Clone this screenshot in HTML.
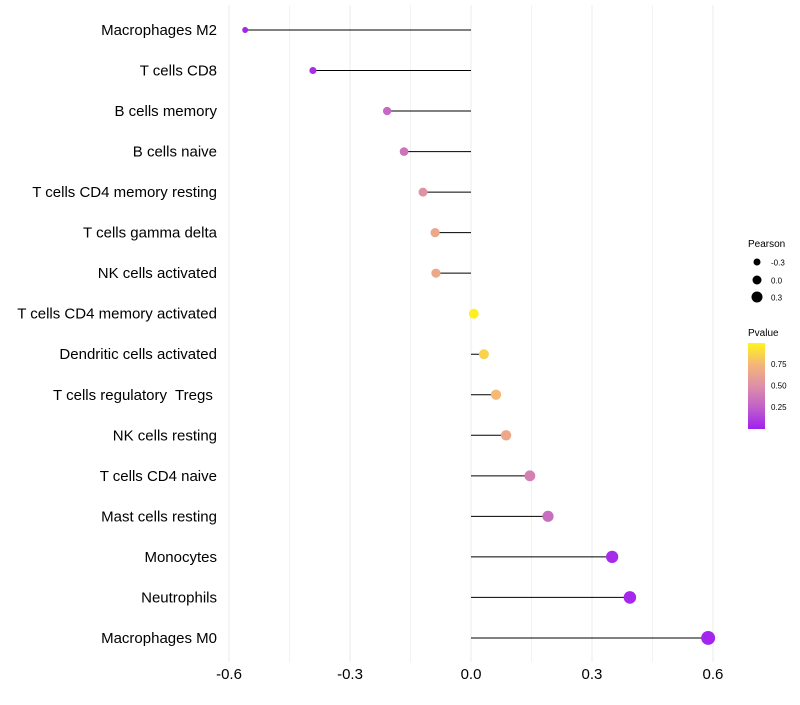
<!DOCTYPE html>
<html><head><meta charset="utf-8"><style>
body{margin:0;background:#fff;font-family:"Liberation Sans",sans-serif}
svg text{font-family:"Liberation Sans",sans-serif;white-space:pre}
</style></head><body>
<svg id="chart" width="800" height="700">
<defs><linearGradient id="pg" x1="0" y1="1" x2="0" y2="0">
<stop offset="0" stop-color="#A020F0"/><stop offset="0.25" stop-color="#C060C8"/><stop offset="0.5" stop-color="#DE8FA8"/><stop offset="0.75" stop-color="#F4B678"/><stop offset="1" stop-color="#FFF51A"/></linearGradient></defs>
<g id="grid"></g><g id="marks"></g><g id="labels"></g>
<g>
<text x="748" y="247" font-size="10">Pearson</text>
<circle cx="757" cy="262" r="3.5" fill="#000"/><text x="771" y="265.5" font-size="8">-0.3</text>
<circle cx="757" cy="280" r="4.5" fill="#000"/><text x="771" y="283.5" font-size="8">0.0</text>
<circle cx="757" cy="297" r="5.5" fill="#000"/><text x="771" y="300.5" font-size="8">0.3</text>
</g>
<g>
<text x="748" y="336" font-size="10">Pvalue</text>
<rect x="748" y="343" width="17" height="86" fill="url(#pg)"/>
<text x="771" y="367" font-size="8">0.75</text>
<text x="771" y="388.5" font-size="8">0.50</text>
<text x="771" y="410" font-size="8">0.25</text>
</g>
</svg>
<script>
const categories=["Macrophages M2","T cells CD8","B cells memory","B cells naive","T cells CD4 memory resting","T cells gamma delta","NK cells activated","T cells CD4 memory activated","Dendritic cells activated","T cells regulatory  Tregs ","NK cells resting","T cells CD4 naive","Mast cells resting","Monocytes","Neutrophils","Macrophages M0"];
const pearson=[-0.560,-0.392,-0.208,-0.166,-0.119,-0.089,-0.087,0.007,0.032,0.062,0.087,0.146,0.191,0.350,0.394,0.588];
const pvalues=[0.02,0.06,0.3,0.35,0.52,0.66,0.66,0.97,0.86,0.76,0.66,0.42,0.32,0.05,0.04,0.03];
const xTicks=[-0.6,-0.3,0.0,0.3,0.6];
const xTickLabels=["-0.6","-0.3","0.0","0.3","0.6"];
const NS="http://www.w3.org/2000/svg";
const x=v=>471+v*403.3;
const y=i=>30+i*40.53;
const r=v=>4.9+3.5*v;
const stops=[[0,[160,32,240]],[0.25,[192,96,200]],[0.5,[222,143,168]],[0.75,[244,182,120]],[1,[255,245,26]]];
function col(p){const t=Math.max(0,Math.min(1,(p-0.005)/0.99));for(let k=1;k<stops.length;k++){if(t<=stops[k][0]){const a=stops[k-1],b=stops[k],f=(t-a[0])/(b[0]-a[0]);return "rgb("+a[1].map((c,j)=>Math.round(c+(b[1][j]-c)*f)).join(",")+")";}}return "rgb(255,245,26)";}
function mk(t,at,p){const e=document.createElementNS(NS,t);for(const k in at)e.setAttribute(k,at[k]);p.appendChild(e);return e;}
const grid=document.getElementById('grid'),marks=document.getElementById('marks'),labels=document.getElementById('labels');
for(let k=0;k<xTicks.length-1;k++){const g=mk('line',{x1:x((xTicks[k]+xTicks[k+1])/2),x2:x((xTicks[k]+xTicks[k+1])/2),y1:5,y2:662,stroke:'#f3f3f3','stroke-width':1},grid);

}
xTicks.forEach((v,k)=>{const g=mk('line',{x1:x(v),x2:x(v),y1:5,y2:662,stroke:'#ebebeb','stroke-width':1},grid);


const t=mk('text',{x:x(v),y:679,'font-size':15,'text-anchor':'middle',fill:'#000'},labels);t.textContent=xTickLabels[k];

});
categories.forEach((c,i)=>{
const t=mk('text',{x:217,y:y(i)+5,'font-size':15,'text-anchor':'end',fill:'#000'},labels);t.textContent=c;


const l=mk('line',{x1:x(0),x2:x(pearson[i]),y1:y(i),y2:y(i),stroke:'#000','stroke-width':1},marks);


const d=mk('circle',{cx:x(pearson[i]),cy:y(i),r:r(pearson[i]),fill:col(pvalues[i])},marks);


});
</script>
</body></html>
